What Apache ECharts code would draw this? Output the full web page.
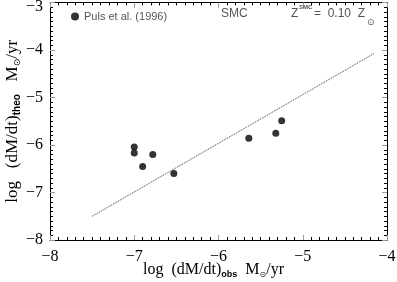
<!DOCTYPE html>
<html><head><meta charset="utf-8">
<script src="https://cdn.jsdelivr.net/npm/echarts@6/dist/echarts.min.js"></script>
<style>html,body{margin:0;padding:0;background:#fff}#c{width:397px;height:282px}</style>
</head><body><div id="c"></div>
<script>
var obsLogMdot = [-7.00, -7.00, -6.90, -6.78, -6.53, -5.64, -5.32, -5.25];
var theoLogMdot = [-6.04, -6.17, -6.45, -6.20, -6.60, -5.86, -5.75, -5.49];
var fitLineX = [-7.5, -4.15];
var fitLineY = [-7.5, -4.07];
var xTicks = [-8, -7, -6, -5, -4];
var yTicks = [-8, -7, -6, -5, -4, -3];
var legendName = 'Puls et al. (1996)';

var pts = obsLogMdot.map(function(x, i){ return [x, theoLogMdot[i]]; });
var linePts = fitLineX.map(function(x, i){ return [x, fitLineY[i]]; });
function fmt(v){ return (v < 0 ? '\u2212' : '') + Math.abs(v); }

var serif = 'Liberation Serif';
function richName(fs, ss) {
  return {
    a: {fontFamily: serif, fontSize: fs, color: '#000', lineHeight: fs + 2},
    s: {fontFamily: 'Liberation Sans', fontSize: ss, fontWeight: 'bold', color: '#000', lineHeight: ss, verticalAlign: 'bottom'},
    o: {fontFamily: 'DejaVu Sans', fontSize: ss - 1, color: '#000', lineHeight: ss, verticalAlign: 'bottom'}
  };
}
function baseAxis(pos, ticks, show) {
  return {
    type: 'value', position: pos,
    min: ticks[0], max: ticks[ticks.length-1], interval: 1,
    axisLine: {show: true, onZero: false, lineStyle: {color: '#000', width: 1}},
    axisTick: {show: true, inside: true, length: 5, lineStyle: {color: '#999'}},
    minorTick: {show: true, splitNumber: 10, length: 3, lineStyle: {color: '#000'}},
    splitLine: {show: false},
    axisLabel: {show: show, formatter: fmt, fontFamily: serif, fontSize: 16, color: '#000'}
  };
}
var xa = baseAxis('bottom', xTicks, true);
xa.axisLabel.margin = 9;
xa.name = '{a|log  (dM/dt)}{s|obs}{a|  M}{o|\u2299}{a|/yr}';
xa.nameLocation = 'middle'; xa.nameGap = 21; xa.nameMoveOverlap = false;
xa.nameTextStyle = {rich: richName(16, 9), padding: [0, 10, 0, 0]};
var xb = baseAxis('top', xTicks, false);
var ya = baseAxis('left', yTicks, true);
ya.axisLabel.margin = 7;
ya.axisLabel.formatter = function(v){
  return v === yTicks[yTicks.length-1] ? '{t|' + fmt(v) + '}' : fmt(v);
};
ya.axisLabel.rich = {t: {fontFamily: serif, fontSize: 16, color: '#000', padding: [8, 0, 0, 0]}};
ya.name = '{a|log   (dM/dt)}{s|theo}{a|   M}{o|\u2299}{a|/yr}';
ya.nameLocation = 'middle'; ya.nameGap = 28; ya.nameRotate = 90; ya.nameMoveOverlap = false;
ya.nameTextStyle = {rich: richName(17, 10)};
var yb = baseAxis('right', yTicks, false);

var chart = echarts.init(document.getElementById('c'), null, {renderer: 'canvas'});
chart.setOption({
  animation: false,
  backgroundColor: '#fff',
  grid: {left: 50, right: 10, top: 2.5, bottom: 42, containLabel: false, outerBoundsMode: 'none'},
  xAxis: [xa, xb],
  yAxis: [ya, yb],
  legend: {
    data: [{name: legendName, icon: 'circle'}],
    left: 66, top: 6, itemWidth: 8, itemHeight: 8, itemGap: 5,
    textStyle: {fontFamily: 'Liberation Sans', fontSize: 11, color: '#555'}
  },
  graphic: [
    {type: 'text', left: 221, top: 8, z: 100, style: {text: 'SMC', font: '12px "Liberation Sans"', fill: '#555'}},
    {type: 'text', left: 291, top: 8, z: 100, style: {text: 'Z', font: '12px "Liberation Sans"', fill: '#555'}},
    {type: 'text', left: 299, top: 4, z: 100, style: {text: 'SMC', font: 'bold 6px "Liberation Sans"', fill: '#555'}},
    {type: 'text', left: 314, top: 8, z: 100, style: {text: '=  0.10  Z', font: '12px "Liberation Sans"', fill: '#555'}},
    {type: 'text', left: 367, top: 18, z: 100, style: {text: '\u2299', font: '9px "DejaVu Sans"', fill: '#555'}}
  ],
  series: [
    {type: 'line', data: linePts, showSymbol: false, symbol: 'none',
     lineStyle: {type: 'dotted', color: '#333', width: 1}, silent: true},
    {name: legendName, type: 'scatter', data: pts, symbol: 'circle', symbolSize: 7,
     itemStyle: {color: '#000'}}
  ]
});
</script></body></html>
